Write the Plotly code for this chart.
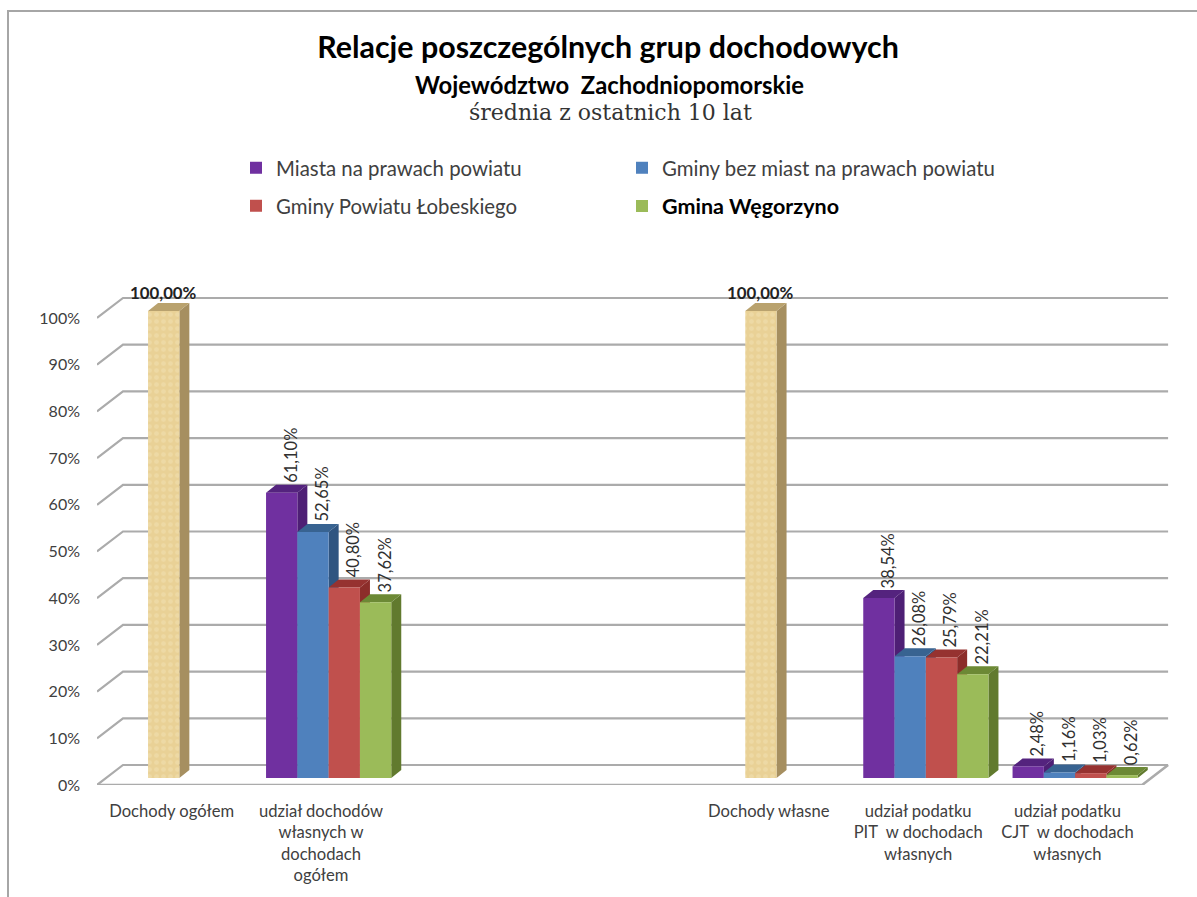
import plotly.graph_objects as go

# ---- data ----
categories = ["Dochody ogółem", "udział dochodów<br>własnych w<br>dochodach<br>ogółem", "", "",
              "Dochody własne", "udział podatku<br>PIT  w dochodach<br>własnych",
              "udział podatku<br>CJT  w dochodach<br>własnych"]
total_values = [100.00, None, None, None, 100.00, None, None]
miasta = [None, 61.10, None, None, None, 38.54, 2.48]
gminy_bez = [None, 52.65, None, None, None, 26.08, 1.16]
gminy_lobez = [None, 40.80, None, None, None, 25.79, 1.03]
wegorzyno = [None, 37.62, None, None, None, 22.21, 0.62]
y_ticks = [0, 10, 20, 30, 40, 50, 60, 70, 80, 90, 100]
y_tick_labels = ["0%", "10%", "20%", "30%", "40%", "50%", "60%", "70%", "80%", "90%", "100%"]

series = [
    dict(name="Miasta na prawach powiatu", values=miasta, slot=-1.5, front="#7030A0", side="#4E1F75", top="#54237E"),
    dict(name="Gminy bez miast na prawach powiatu", values=gminy_bez, slot=-0.5, front="#4F81BD", side="#2F5480", top="#386391"),
    dict(name="Gminy Powiatu Łobeskiego", values=gminy_lobez, slot=0.5, front="#C0504D", side="#8C2D2A", top="#963230"),
    dict(name="<b>Gmina Węgorzyno</b>", values=wegorzyno, slot=1.5, front="#9BBB59", side="#617A2E", top="#6C8935"),
]
gold = dict(name="Dochody", values=total_values, slot=-0.5, front="#E9D196", side="#A68F60", top="#B9A26E")

# ---- geometry (pixels of the 1197x897 page) ----
W, H = 1197, 897
L, R, T, B = 97, 1170, 290, 785
CAT_PX = 149.3
PCT_PX = 4.67
SLOT = 31.3 / CAT_PX
SHIFT_X = 7.7 / CAT_PX
FLOOR_Y = 7 / PCT_PX
DEPTH_X = 10 / CAT_PX
DEPTH_Y = 8 / PCT_PX
WALL_X = 26 / CAT_PX
WALL_Y = 20 / PCT_PX
X_RANGE = [-0.5, -0.5 + (R - L) / CAT_PX]
Y_RANGE = [0, (B - T) / PCT_PX]
X_FRONT_END = X_RANGE[0] + 7

GRID = "#ABABAB"
TEXT = "#404040"
LATO = "Lato, Carlito, sans-serif"

def px_x(p):
    return (p - L) / (R - L)

def px_y(p):
    return (B - p) / (B - T)

fig = go.Figure()

# walls: diagonal from the value axis, then along the back wall
gx, gy = [], []
for t in y_ticks:
    gx += [X_RANGE[0], X_RANGE[0] + WALL_X, X_FRONT_END + WALL_X, None]
    gy += [t, t + WALL_Y, t + WALL_Y, None]
fig.add_trace(go.Scatter(x=gx, y=gy, mode="lines", line=dict(color=GRID, width=2.2),
                         hoverinfo="skip", showlegend=False, cliponaxis=False))
fig.add_trace(go.Scatter(x=[X_RANGE[0], X_FRONT_END, X_FRONT_END + WALL_X],
                         y=[0, 0, WALL_Y], mode="lines", line=dict(color=GRID, width=2.6),
                         hoverinfo="skip", showlegend=False, cliponaxis=False))

annotations = []

def faces(s):
    sx, sy, tx, ty = [], [], [], []
    for i, v in enumerate(s["values"]):
        if v is None:
            continue
        x0 = i + SHIFT_X + (s["slot"] - 0.5) * SLOT
        x1 = x0 + SLOT
        top = v + FLOOR_Y
        sx += [x1, x1 + DEPTH_X, x1 + DEPTH_X, x1, None]
        sy += [FLOOR_Y, FLOOR_Y + DEPTH_Y, top + DEPTH_Y, top, None]
        tx += [x0, x0 + DEPTH_X, x1 + DEPTH_X, x1, None]
        ty += [top, top + DEPTH_Y, top + DEPTH_Y, top, None]
    return sx, sy, tx, ty

# side and top faces go on the base axes, front faces on the overlay axes
for s in [gold] + series:
    sx, sy, tx, ty = faces(s)
    fig.add_trace(go.Scatter(x=sx, y=sy, mode="lines", line=dict(width=0), fill="toself",
                             fillcolor=s["side"], hoverinfo="skip", showlegend=False))
    fig.add_trace(go.Scatter(x=tx, y=ty, mode="lines", line=dict(width=0), fill="toself",
                             fillcolor=s["top"], hoverinfo="skip", showlegend=False))

def front_bar(s, legend=None):
    idx = [i for i, v in enumerate(s["values"]) if v is not None]
    vals = [s["values"][i] for i in idx]
    is_gold = s is gold
    marker = dict(color=s["front"], line=dict(width=0))
    if is_gold:
        marker["pattern"] = dict(shape=".", fgcolor="#F2E2B4", size=7, solidity=0.35)
    return go.Bar(x=[i + SHIFT_X + s["slot"] * SLOT for i in idx], y=vals,
                  base=[FLOOR_Y] * len(vals), width=SLOT, name=s["name"], marker=marker,
                  xaxis="x2", yaxis="y2", showlegend=not is_gold,
                  legend=legend if legend else "legend",
                  hovertemplate="%{y:.2f}%<extra>" + s["name"] + "</extra>")

fig.add_trace(front_bar(gold))
for s, lg in zip(series, ["legend", "legend2", "legend3", "legend4"]):
    fig.add_trace(front_bar(s, lg))

def pl(v):
    return f"{v:.2f}".replace(".", ",") + "%"

for s in series:
    for i, v in enumerate(s["values"]):
        if v is None:
            continue
        annotations.append(dict(x=i + SHIFT_X + s["slot"] * SLOT, y=v + FLOOR_Y, xref="x", yref="y",
                                text=pl(v), textangle=-90, showarrow=False, xanchor="center",
                                yanchor="bottom", xshift=9, yshift=8,
                                font=dict(family=LATO, size=16.5, color="#303030")))
for i, v in enumerate(total_values):
    if v is not None:
        annotations.append(dict(x=i + SHIFT_X + gold["slot"] * SLOT, y=v + FLOOR_Y, xref="x", yref="y",
                                text="<b>" + pl(v) + "</b>", showarrow=False, xanchor="center",
                                yanchor="bottom", yshift=6,
                                font=dict(family=LATO, size=16.8, color="#222222")))

annotations.append(dict(x=px_x(609), y=px_y(85), xref="paper", yref="paper", showarrow=False,
                        text="<b>Województwo  Zachodniopomorskie</b>", xanchor="center", yanchor="middle",
                        font=dict(family=LATO, size=23.8, color="#000000")))
annotations.append(dict(x=px_x(610), y=px_y(113), xref="paper", yref="paper", showarrow=False,
                        text="średnia z ostatnich 10 lat", xanchor="center", yanchor="middle",
                        font=dict(family="DejaVu Serif, serif", size=22, color="#333333")))

def legend_at(px, py, color="#404040", size=20.4):
    return dict(x=px_x(px), y=px_y(py), xanchor="left", yanchor="middle", orientation="h",
                bgcolor="rgba(0,0,0,0)", font=dict(family=LATO, size=size, color=color), itemclick=False)

fig.update_layout(
    width=W, height=H, autosize=False,
    margin=dict(l=L, r=W - R, t=T, b=H - B, pad=0),
    paper_bgcolor="white", plot_bgcolor="white",
    barmode="overlay",
    title=dict(text="<b>Relacje poszczególnych grup dochodowych</b>", x=608 / W, y=1 - 47 / H,
               xref="container", yref="container", xanchor="center", yanchor="middle",
               font=dict(family=LATO, size=30.4, color="#000000")),
    xaxis=dict(range=X_RANGE, tickmode="array", tickvals=list(range(7)), ticktext=categories,
               showgrid=False, zeroline=False, showline=False, ticks="", ticklabelstandoff=14,
               tickangle=0, tickfont=dict(family=LATO, size=16.6, color=TEXT)),
    yaxis=dict(range=Y_RANGE, tickmode="array", tickvals=y_ticks, ticktext=y_tick_labels,
               showgrid=False, zeroline=False, showline=False, ticks="", ticklabelstandoff=16,
               tickfont=dict(family=LATO, size=16, color=TEXT)),
    xaxis2=dict(range=X_RANGE, overlaying="x", visible=False),
    yaxis2=dict(range=Y_RANGE, overlaying="y", visible=False),
    legend=legend_at(236, 168),
    legend2=legend_at(622, 168),
    legend3=legend_at(236, 206),
    legend4=legend_at(622, 206, "#000000", 21.5),
    annotations=annotations,
    shapes=[dict(type="path", xref="paper", yref="paper",
                 path=f"M {px_x(8)} {px_y(H + 5)} L {px_x(8)} {px_y(11)} L {px_x(W + 5)} {px_y(11)}",
                 line=dict(color="#A6A6A6", width=2))],
)

fig.write_html("out.html", config={"displayModeBar": False},
               post_script="document.body.style.margin='0';")
